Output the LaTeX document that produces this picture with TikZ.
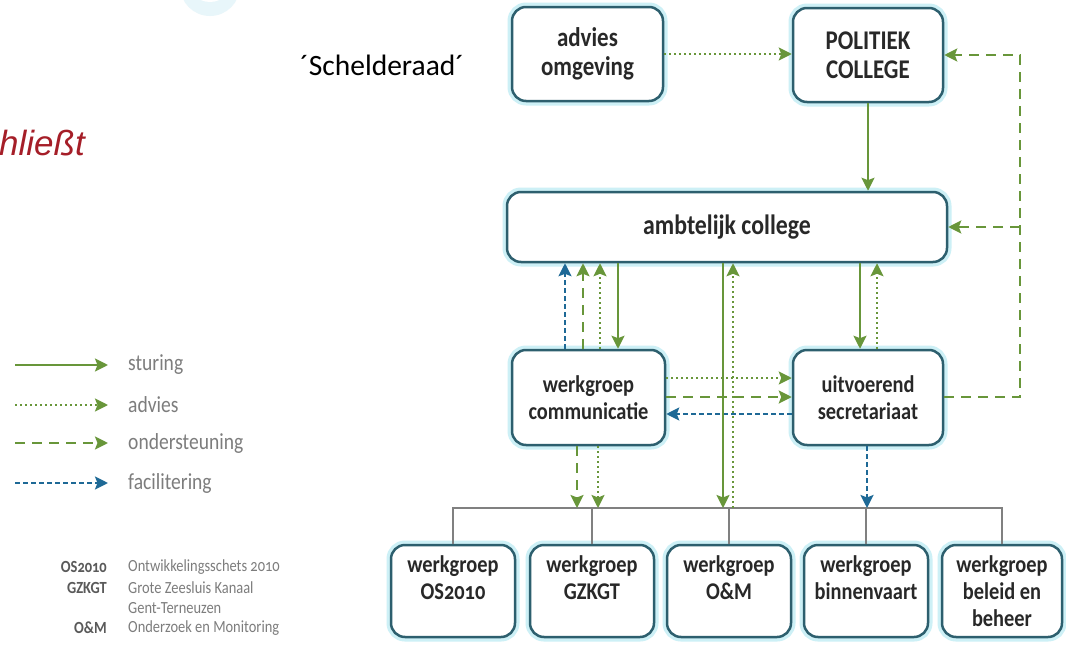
\documentclass[tikz,border=0pt]{standalone}
\usepackage{fontspec}
\setmainfont{Carlito}
\newfontfamily\condf[FakeStretch=0.85]{Carlito}
\newfontfamily\arialf{Liberation Sans}
\usetikzlibrary{arrows.meta,calc}
\definecolor{gr}{RGB}{104,150,58}
\definecolor{bl}{RGB}{30,105,150}
\definecolor{bord}{RGB}{45,95,110}
\definecolor{glow}{RGB}{205,240,246}
\definecolor{faint}{RGB}{232,246,250}
\definecolor{txt}{RGB}{40,40,40}
\definecolor{legc}{RGB}{125,125,125}
\definecolor{abl}{RGB}{90,90,90}
\definecolor{redt}{RGB}{165,30,40}
\definecolor{busc}{RGB}{128,128,128}
\newcommand{\osn}[1]{{\addfontfeature{Numbers=OldStyle}#1}}
\begin{document}
\begin{tikzpicture}[x=1pt,y=-1pt,
  box/.style={draw=bord, line width=2.5pt, rounded corners=14pt, fill=white, align=center, text=txt,
    font=\condf\fontsize{24}{27}\selectfont\bfseries, inner sep=0pt, preaction={draw=glow,line width=9pt}},
  bigtxt/.style={font=\condf\fontsize{27}{29}\selectfont\bfseries},
  arr/.style={-{Stealth[length=13pt,width=13pt,inset=2.5pt]}},
  sturing/.style={draw=gr, line width=2.2pt, arr},
  advies/.style={draw=gr, line width=2pt, dash pattern=on 2pt off 3pt, arr},
  onder/.style={draw=gr, line width=2.4pt, dash pattern=on 10pt off 7pt, arr},
  facil/.style={draw=bl, line width=2.4pt, dash pattern=on 5pt off 3pt, arr},
  bus/.style={draw=busc, line width=1.8pt},
  leg/.style={anchor=west, inner sep=0pt, text=legc, font=\condf\fontsize{23}{26}\selectfont},
  abL/.style={anchor=east, inner sep=0pt, text=abl, font=\condf\fontsize{17}{19}\selectfont\bfseries},
  abR/.style={anchor=west, inner sep=0pt, text=legc, font=\condf\fontsize{17}{19}\selectfont},
]
\useasboundingbox (0,0) rectangle (1066,645);
\fill[white] (0,0) rectangle (1066,645);
% faint icon fragment at top
\fill[faint] (210,-14) circle (30pt);
\fill[white] (210,-20) circle (22pt);

% texts outside the chart
\node[anchor=base west, inner sep=0pt, text=redt, font=\arialf\itshape\fontsize{35}{40}\selectfont] (red) at (-1,155) {hließt};
\node[anchor=base west, inner sep=0pt, font=\fontsize{29.5}{34}\selectfont] (sch) at (300,75) {´Schelderaad´};

% boxes
\node[box, bigtxt, minimum width=151pt, minimum height=94pt] (adv) at (587.5,54) {advies\\omgeving};
\node[box, bigtxt, minimum width=150pt, minimum height=94pt] (pol) at (868,55) {POLITIEK\\COLLEGE};
\node[box, minimum width=440pt, minimum height=70pt, font=\condf\fontsize{28}{30}\selectfont\bfseries] (amb) at (727,227) {ambtelijk college};
\node[box, minimum width=153pt, minimum height=95pt] (comm) at (588.5,397.5) {werkgroep\\communicatie};
\node[box, minimum width=150pt, minimum height=95pt] (sec) at (868,397.5) {uitvoerend\\secretariaat};
\node[box, minimum width=124pt, minimum height=92pt] (b1) at (453,591) {werkgroep\\\osn{OS2010}\\\mbox{}};
\node[box, minimum width=124pt, minimum height=92pt] (b2) at (592,591) {werkgroep\\GZKGT\\\mbox{}};
\node[box, minimum width=124pt, minimum height=92pt] (b3) at (729,591) {werkgroep\\O\&M\\\mbox{}};
\node[box, minimum width=124pt, minimum height=92pt] (b4) at (866,591) {werkgroep\\binnenvaart\\\mbox{}};
\node[box, minimum width=120pt, minimum height=92pt] (b5) at (1002,591) {werkgroep\\beleid en\\beheer};

% helper coordinates
\coordinate (rx) at (1020,0);
\coordinate (bus) at (0,508);
\coordinate (k565) at (565,0);
\coordinate (k583) at (583,0);
\coordinate (k600) at (600,0);
\coordinate (k618) at (618,0);
\coordinate (k577) at (577,0);
\coordinate (k598) at (598,0);
\coordinate (k723) at (723,0);
\coordinate (k733) at (733,0);
\coordinate (k860) at (860,0);
\coordinate (k877) at (877,0);
\coordinate (k867) at (867,0);
\coordinate (y378) at (0,378);
\coordinate (y397) at (0,397);
\coordinate (y414) at (0,414);

% bus
\draw[bus] (b1.north) -- (b1.north |- bus) -- (b5.north |- bus) -- (b5.north);
\foreach \b in {b2,b3,b4} \draw[bus] (\b.north) -- (\b.north |- bus);

% connectors
\draw[advies] (adv.east) -- (adv.east -| pol.west);
\draw[sturing] (pol.south) -- (pol.south |- amb.north);

\draw[facil] (comm.north -| k565) -- (amb.south -| k565);
\draw[onder] (comm.north -| k583) -- (amb.south -| k583);
\draw[advies] (comm.north -| k600) -- (amb.south -| k600);
\draw[sturing] (amb.south -| k618) -- (comm.north -| k618);

\draw[advies] (comm.east |- y378) -- (sec.west |- y378);
\draw[onder] (comm.east |- y397) -- (sec.west |- y397);
\draw[facil] (sec.west |- y414) -- (comm.east |- y414);

\draw[sturing] (amb.south -| k723) -- (bus -| k723);
\draw[advies] (bus -| k733) -- (amb.south -| k733);

\draw[sturing] (amb.south -| k860) -- (sec.north -| k860);
\draw[advies] (sec.north -| k877) -- (amb.south -| k877);

\draw[onder] (sec.east |- y397) -- (rx |- y397) -- (rx |- pol.east) -- (pol.east);
\draw[onder] (rx |- amb.east) -- (amb.east);

\draw[onder] (comm.south -| k577) -- (bus -| k577);
\draw[advies] (comm.south -| k598) -- (bus -| k598);
\draw[facil] (sec.south -| k867) -- (bus -| k867);

% legend
\coordinate (l1a) at (15,365); \coordinate (l1b) at (108,365);
\coordinate (l2a) at (15,405); \coordinate (l2b) at (108,405);
\coordinate (l3a) at (15,443); \coordinate (l3b) at (108,443);
\coordinate (l4a) at (15,483); \coordinate (l4b) at (108,483);
\draw[sturing] (l1a) -- (l1b);
\draw[advies] (l2a) -- (l2b);
\draw[onder] (l3a) -- (l3b);
\draw[facil] (l4a) -- (l4b);
\node[leg] (t1) at (128,365) {sturing};
\node[leg] (t2) at (128,405) {advies};
\node[leg] (t3) at (128,443) {ondersteuning};
\node[leg] (t4) at (128,483) {facilitering};

% abbreviations
\node[abL] (a1) at (107,567) {\osn{OS2010}};
\node[abL] (a2) at (107,588) {GZKGT};
\node[abL] (a4) at (107,628) {O\&M};
\node[abR] (r1) at (128,567) {Ontwikkelingsschets \osn{2010}};
\node[abR] (r2) at (128,588) {Grote Zeesluis Kanaal};
\node[abR] (r3) at (128,608) {Gent-Terneuzen};
\node[abR] (r4) at (128,628) {Onderzoek en Monitoring};
\end{tikzpicture}
\end{document}
